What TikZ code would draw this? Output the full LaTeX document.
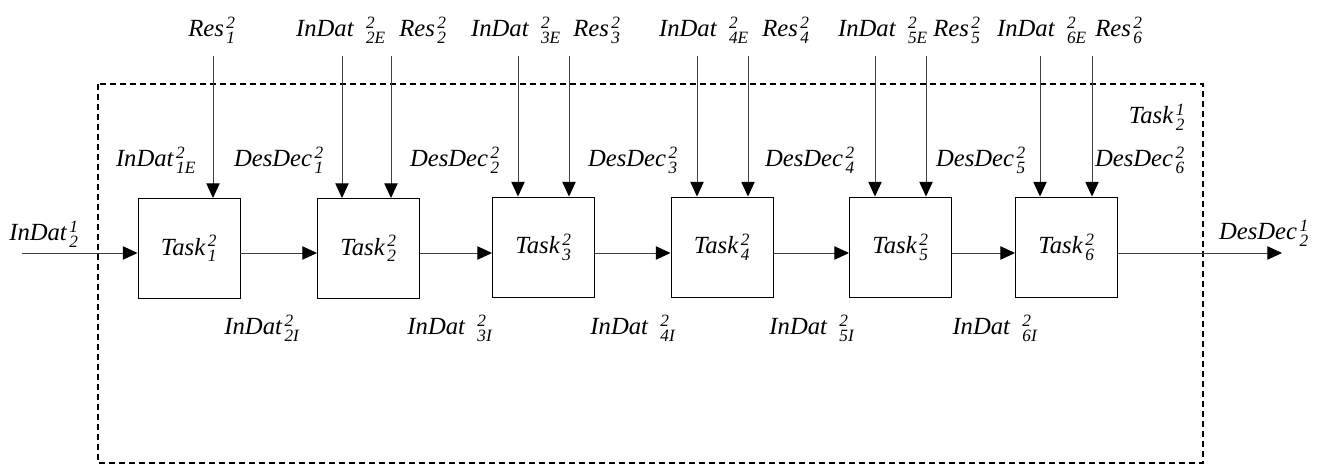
\documentclass[tikz,border=0pt]{standalone}
\usepackage{fontspec}
\usepackage{amsmath}
\setmainfont{Liberation Serif}
\usetikzlibrary{arrows.meta}
% symbol with upper and lower index
\newcommand{\tsym}[3]{$\text{#1}\mkern2mu^{\text{#2}}_{\text{#3}}$}
\newcommand{\gap}{\hspace{0.4em}}

\begin{document}
\begin{tikzpicture}[x=0.75pt,y=0.75pt,yscale=-1,
  taskbox/.style={draw,line width=0.7pt,minimum width=76.5pt,minimum height=75pt,inner sep=0pt,
    font=\fontsize{18.5}{20}\selectfont\itshape},
  lbl/.style={font=\fontsize{18.5}{20}\selectfont\itshape,inner sep=0pt,anchor=base},
  flow/.style={-{Triangle[length=11pt,width=10pt,color=black]},line width=0.7pt,draw=black!75}]
\path (0,0) rectangle (1324,466);

%Shape: dashed frame
\draw [line width=1pt,dash pattern={on 4.5pt off 3pt}] (98,84) rectangle (1203,463);

%Shape: task boxes
\draw (189,248.5) node [taskbox] (t1) {\tsym{Task}{2}{1}};
\draw (368.5,248.5) node [taskbox] (t2) {\tsym{Task}{2}{2}};
\draw (543.5,247) node [taskbox] (t3) {\tsym{Task}{2}{3}};
\draw (722,247) node [taskbox] (t4) {\tsym{Task}{2}{4}};
\draw (900.5,247) node [taskbox] (t5) {\tsym{Task}{2}{5}};
\draw (1066.5,247) node [taskbox] (t6) {\tsym{Task}{2}{6}};

% ends of the flow line
\coordinate (in) at (22,253);
\coordinate (out) at (1282,253);

%Straight Lines: flow through the tasks
\draw [flow] (in) -- (in -| t1.west);
\draw [flow] (t1.east |- in) -- (t2.west |- in);
\draw [flow] (t2.east |- in) -- (t3.west |- in);
\draw [flow] (t3.east |- in) -- (t4.west |- in);
\draw [flow] (t4.east |- in) -- (t5.west |- in);
\draw [flow] (t5.east |- in) -- (t6.west |- in);
\draw [flow] (t6.east |- in) -- (out);

% upper ends of the resource and data arrows
\coordinate (r1) at (213,56);
\coordinate (e2) at (342,56);
\coordinate (r2) at (391,56);
\coordinate (e3) at (518,56);
\coordinate (r3) at (569,56);
\coordinate (e4) at (697,56);
\coordinate (r4) at (748,56);
\coordinate (e5) at (875,56);
\coordinate (r5) at (926,56);
\coordinate (e6) at (1040,56);
\coordinate (r6) at (1092,56);

%Straight Lines: arrows into the tasks
\draw [flow] (r1) -- (r1 |- t1.north);
\draw [flow] (e2) -- (e2 |- t2.north);
\draw [flow] (r2) -- (r2 |- t2.north);
\draw [flow] (e3) -- (e3 |- t3.north);
\draw [flow] (r3) -- (r3 |- t3.north);
\draw [flow] (e4) -- (e4 |- t4.north);
\draw [flow] (r4) -- (r4 |- t4.north);
\draw [flow] (e5) -- (e5 |- t5.north);
\draw [flow] (r5) -- (r5 |- t5.north);
\draw [flow] (e6) -- (e6 |- t6.north);
\draw [flow] (r6) -- (r6 |- t6.north);

% Text Node: top row
\draw (212,37) node [lbl] (lr1) {\tsym{Res}{2}{1}};
\draw (341,37) node [lbl] (le2) {\tsym{InDat\gap}{2}{2E}};
\draw (423,37) node [lbl] (lr2) {\tsym{Res}{2}{2}};
\draw (516,37) node [lbl] (le3) {\tsym{InDat\gap}{2}{3E}};
\draw (597,37) node [lbl] (lr3) {\tsym{Res}{2}{3}};
\draw (704,37) node [lbl] (le4) {\tsym{InDat\gap}{2}{4E}};
\draw (786,37) node [lbl] (lr4) {\tsym{Res}{2}{4}};
\draw (883,37) node [lbl] (le5) {\tsym{InDat\gap}{2}{5E}};
\draw (957,37) node [lbl] (lr5) {\tsym{Res}{2}{5}};
\draw (1042,37) node [lbl] (le6) {\tsym{InDat\gap}{2}{6E}};
\draw (1119,37) node [lbl] (lr6) {\tsym{Res}{2}{6}};

% Text Node: middle row
\draw (156,167) node [lbl] (le1) {\tsym{InDat}{2}{1E}};
\draw (279,167) node [lbl] (ld1) {\tsym{DesDec}{2}{1}};
\draw (455,167) node [lbl] (ld2) {\tsym{DesDec}{2}{2}};
\draw (633,167) node [lbl] (ld3) {\tsym{DesDec}{2}{3}};
\draw (810,167) node [lbl] (ld4) {\tsym{DesDec}{2}{4}};
\draw (981,167) node [lbl] (ld5) {\tsym{DesDec}{2}{5}};
\draw (1140,167) node [lbl] (ld6) {\tsym{DesDec}{2}{6}};
\draw (1157,124) node [lbl] (ltask) {\tsym{Task}{1}{2}};

% Text Node: bottom row
\draw (262,335) node [lbl] (li2) {\tsym{InDat}{2}{2I}};
\draw (450,335) node [lbl] (li3) {\tsym{InDat\gap}{2}{3I}};
\draw (633,335) node [lbl] (li4) {\tsym{InDat\gap}{2}{4I}};
\draw (812,335) node [lbl] (li5) {\tsym{InDat\gap}{2}{5I}};
\draw (995,335) node [lbl] (li6) {\tsym{InDat\gap}{2}{6I}};

% Text Node: input and output
\draw (44,241) node [lbl] (lin) {\tsym{InDat}{1}{2}};
\draw (1264,240) node [lbl] (lout) {\tsym{DesDec}{1}{2}};

\end{tikzpicture}
\end{document}
